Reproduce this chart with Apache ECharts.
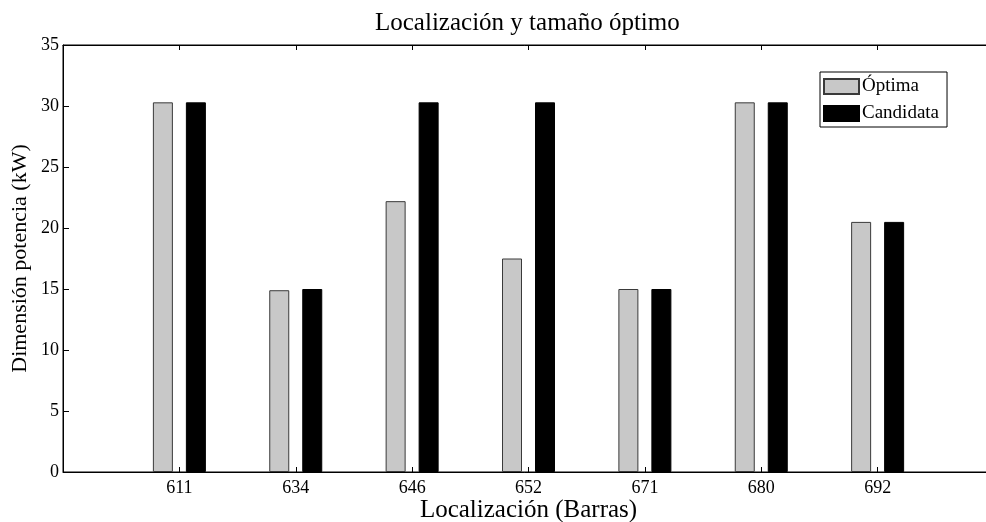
<!DOCTYPE html>
<html>
<head>
<meta charset="utf-8">
<style>
  html, body { margin: 0; padding: 0; background: #fff; }
  #chart { width: 986px; height: 522px; }
</style>
<script src="https://cdn.jsdelivr.net/npm/echarts@6/dist/echarts.min.js"></script>
</head>
<body>
<div id="chart"></div>
<script>
// empty slots at both ends keep the MATLAB-style padding on the axis
var categories = ['', '611', '634', '646', '652', '671', '680', '692', ''];
var optima = ['-', 30.3, 14.9, 22.2, 17.5, 15.0, 30.3, 20.5, '-'];
var candidata = ['-', 30.3, 15.0, 30.3, 30.3, 15.0, 30.3, 20.5, '-'];
var seriesNames = ['Óptima', 'Candidata'];

var chart = echarts.init(document.getElementById('chart'));
var serif = 'Liberation Serif, Times New Roman, serif';

function midTicks(index) {
    return index > 0 && index < categories.length - 1;
}

chart.setOption({
    backgroundColor: '#fff',
    animation: false,
    title: {
        text: 'Localización y tamaño óptimo',
        left: 370,
        top: 6,
        textStyle: {
            color: '#000',
            fontFamily: serif,
            fontWeight: 'normal',
            fontSize: 25
        }
    },
    legend: {
        orient: 'vertical',
        left: 820,
        top: 72,
        data: seriesNames,
        icon: 'rect',
        itemWidth: 35,
        itemHeight: 15,
        itemGap: 8,
        padding: [5, 8, 4, 3],
        borderColor: '#000',
        borderWidth: 1,
        borderRadius: 0,
        backgroundColor: '#fff',
        textStyle: {
            color: '#000',
            fontFamily: serif,
            fontSize: 19,
            padding: [0, 0, 0, -2]
        }
    },
    grid: {
        left: 63,
        top: 45,
        width: 931,
        height: 427,
        show: true,
        borderColor: '#000',
        borderWidth: 1,
        containLabel: false,
        outerBoundsMode: 'none'
    },
    xAxis: [{
        type: 'category',
        data: categories,
        boundaryGap: false,
        name: 'Localización (Barras)',
        nameLocation: 'middle',
        nameGap: 26,
        nameMoveOverlap: false,
        nameTextStyle: {
            color: '#000',
            fontFamily: serif,
            fontSize: 25
        },
        axisLine: { lineStyle: { color: '#000', width: 1 } },
        axisTick: { inside: true, length: 5, interval: midTicks, lineStyle: { color: '#000' } },
        axisLabel: {
            interval: 0,
            margin: 7,
            color: '#000',
            fontFamily: serif,
            fontSize: 18
        },
        splitLine: { show: false }
    }, {
        type: 'category',
        data: categories,
        boundaryGap: false,
        position: 'top',
        axisLine: { lineStyle: { color: '#000', width: 1 } },
        axisTick: { inside: true, length: 5, interval: midTicks, lineStyle: { color: '#000' } },
        axisLabel: { show: false },
        splitLine: { show: false }
    }],
    yAxis: {
        type: 'value',
        min: 0,
        max: 35,
        interval: 5,
        name: 'Dimensión potencia (kW)',
        nameLocation: 'middle',
        nameGap: 32,
        nameMoveOverlap: false,
        nameTextStyle: {
            color: '#000',
            fontFamily: serif,
            fontSize: 22
        },
        axisLine: { show: true, lineStyle: { color: '#000', width: 1 } },
        axisTick: { show: true, inside: true, length: 6, lineStyle: { color: '#000' } },
        axisLabel: {
            margin: 4,
            color: '#000',
            fontFamily: serif,
            fontSize: 18
        },
        splitLine: { show: false }
    },
    series: [{
        name: seriesNames[0],
        type: 'bar',
        data: optima,
        barWidth: 20,
        barGap: '65%',
        itemStyle: { color: '#c8c8c8', borderColor: '#3a3a3a', borderWidth: 1 }
    }, {
        name: seriesNames[1],
        type: 'bar',
        data: candidata,
        barWidth: 20,
        barGap: '65%',
        itemStyle: { color: '#000', borderColor: '#000', borderWidth: 1 }
    }]
});
</script>
</body>
</html>
